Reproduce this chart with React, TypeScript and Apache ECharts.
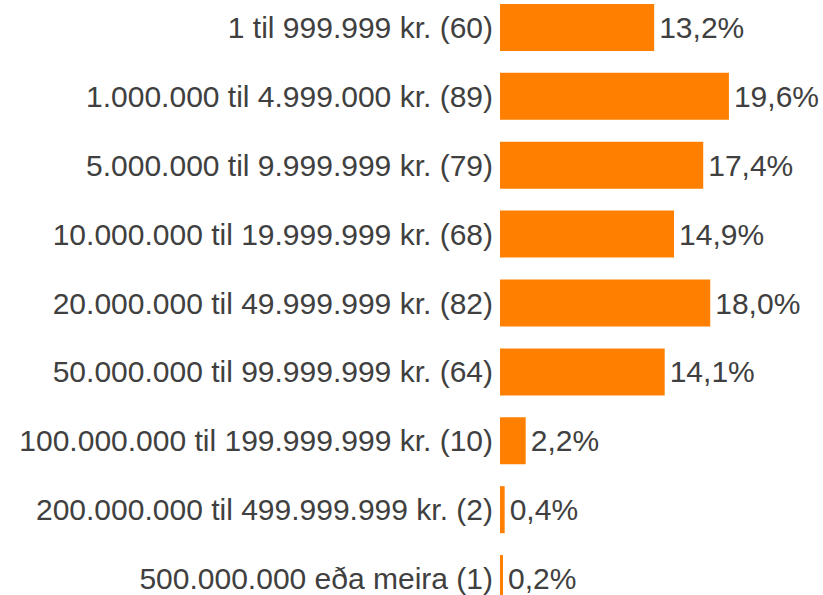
import React, { useEffect, useRef } from "react";
import * as echarts from "echarts";

const categories = [
  "1 til 999.999 kr. (60)",
  "1.000.000 til 4.999.000 kr. (89)",
  "5.000.000 til 9.999.999 kr. (79)",
  "10.000.000 til 19.999.999 kr. (68)",
  "20.000.000 til 49.999.999 kr. (82)",
  "50.000.000 til 99.999.999 kr. (64)",
  "100.000.000 til 199.999.999 kr. (10)",
  "200.000.000 til 499.999.999 kr. (2)",
  "500.000.000 eða meira (1)",
];
const percents = [13.2, 19.6, 17.4, 14.9, 18.0, 14.1, 2.2, 0.4, 0.2];

const FONT = "Liberation Sans";

export default function App() {
  const ref = useRef<HTMLDivElement>(null);
  useEffect(() => {
    if (!ref.current) return;
    const chart = echarts.init(ref.current, undefined, { renderer: "svg" });
    chart.setOption({
      animation: false,
      backgroundColor: "#ffffff",
      grid: { left: 500, right: 89.4, top: 0, bottom: 0, containLabel: false },
      xAxis: {
        type: "value",
        min: 0,
        max: 20,
        show: false,
      },
      yAxis: {
        type: "category",
        inverse: true,
        data: categories,
        axisLine: { show: false },
        axisTick: { show: false },
        splitLine: { show: false },
        axisLabel: {
          fontSize: 30,
          color: "#404040",
          fontFamily: FONT,
          margin: 7,
        },
      },
      series: [
        {
          type: "bar",
          data: percents,
          barWidth: 47,
          barMinHeight: 3,
          itemStyle: { color: "#FF8000" },
          label: {
            show: true,
            position: "right",
            distance: 5,
            fontSize: 30,
            color: "#404040",
            fontFamily: FONT,
            formatter: (p: any) => p.value.toFixed(1).replace(".", ",") + "%",
          },
        },
      ],
    });
    return () => chart.dispose();
  }, []);
  return (
    <div style={{ position: "fixed", left: 0, top: 0, width: 823, height: 595, overflow: "hidden", background: "#fff" }}>
      <div
        ref={ref}
        style={{ position: "absolute", left: 0, top: -7.5, width: 823, height: 620 }}
      />
    </div>
  );
}
